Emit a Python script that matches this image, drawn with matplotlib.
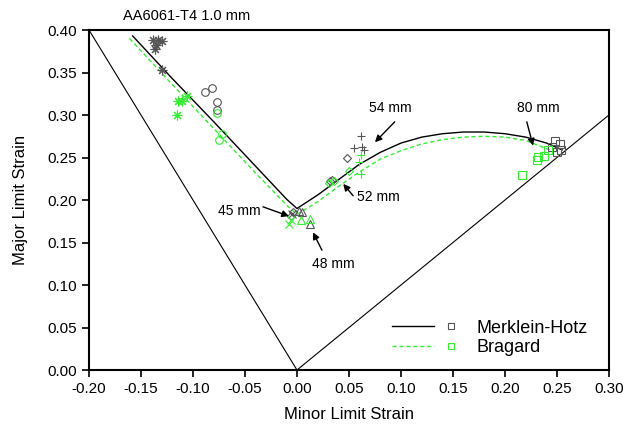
import matplotlib
matplotlib.use("Agg")
import matplotlib.pyplot as plt
from matplotlib.lines import Line2D
from matplotlib.legend_handler import HandlerBase

plt.rcParams['font.family'] = ['Liberation Sans', 'DejaVu Sans']

# ---- data ----
# strain path reference lines (uniaxial, equibiaxial)
uni_x = [-0.2, 0.0]
uni_y = [0.4, 0.0]
equi_x = [0.0, 0.3]
equi_y = [0.0, 0.3]

# Merklein-Hotz model curve
mh_x = [-0.158, -0.12, -0.08, -0.04, -0.01, 0.0, 0.02, 0.04, 0.06, 0.08, 0.10,
        0.12, 0.14, 0.16, 0.18, 0.20, 0.22, 0.24, 0.255]
mh_y = [0.393, 0.343, 0.292, 0.240, 0.201, 0.190, 0.206, 0.224, 0.242, 0.256, 0.267,
        0.274, 0.278, 0.280, 0.280, 0.278, 0.274, 0.267, 0.259]
# Bragard model curve
br_x = [-0.161, -0.12, -0.08, -0.04, -0.01, 0.0, 0.02, 0.04, 0.06, 0.08, 0.10,
        0.12, 0.14, 0.16, 0.18, 0.20, 0.22, 0.245]
br_y = [0.390, 0.336, 0.284, 0.232, 0.194, 0.183, 0.198, 0.216, 0.233, 0.248, 0.258,
        0.266, 0.271, 0.274, 0.275, 0.274, 0.270, 0.258]

# experimental points (black = Merklein-Hotz, green = Bragard)
ast_k_x = [-0.1385, -0.1337, -0.130, -0.1356, -0.1365, -0.130]
ast_k_y = [0.388, 0.388, 0.387, 0.382, 0.378, 0.353]
ast_g_x = [-0.114, -0.111, -0.115, -0.106]
ast_g_y = [0.316, 0.317, 0.300, 0.322]

cir_k_x = [-0.088, -0.082, -0.077, -0.077]
cir_k_y = [0.327, 0.332, 0.315, 0.306]
cir_g_x = [-0.077, -0.075, -0.072]
cir_g_y = [0.302, 0.271, 0.278]

dia_k_x = [-0.004, -0.006, 0.048, 0.032, 0.034]
dia_k_y = [0.186, 0.181, 0.250, 0.222, 0.223]
dia_g_x = [0.036, 0.050, 0.031]
dia_g_y = [0.222, 0.234, 0.220]

x_k_x = [-0.005]
x_k_y = [0.183]
x_g_x = [-0.006, -0.008]
x_g_y = [0.176, 0.172]

tri_k_x = [0.002, 0.005, 0.013]
tri_k_y = [0.187, 0.186, 0.172]
tri_g_x = [0.004, 0.013]
tri_g_y = [0.177, 0.178]

plus_k_x = [0.062, 0.055, 0.063, 0.064]
plus_k_y = [0.275, 0.261, 0.262, 0.259]
plus_g_x = [0.062, 0.060, 0.062]
plus_g_y = [0.253, 0.245, 0.231]

sq_k_x = [0.248, 0.253, 0.245, 0.254, 0.250]
sq_k_y = [0.269, 0.266, 0.262, 0.259, 0.257]
sq_g_x = [0.241, 0.238, 0.232, 0.231, 0.216]
sq_g_y = [0.259, 0.252, 0.251, 0.247, 0.229]

# annotations: label, tip (xy), arrow tail, text position
ann_labels = ["45 mm", "48 mm", "52 mm", "54 mm", "80 mm"]
ann_tip = [(-0.0077, 0.181), (0.0154, 0.162), (0.0445, 0.219), (0.075, 0.268), (0.227, 0.264)]
ann_tail = [(-0.0327, 0.192), (0.024, 0.141), (0.054, 0.205), (0.094, 0.292), (0.221, 0.292)]
ann_text = [(-0.055, 0.187), (0.0346, 0.125), (0.078, 0.204), (0.0894, 0.308), (0.232, 0.308)]

KC = '#555555'
GC = '#33ee33'

fig = plt.figure(figsize=(6.33, 4.30), dpi=100)
ax = fig.add_axes([0.1406, 0.1395, 0.8214, 0.7907])

ax.plot(uni_x, uni_y, color='black', lw=0.8)
ax.plot(equi_x, equi_y, color='black', lw=0.8)
ax.plot(mh_x, mh_y, color='black', lw=1.0)
ax.plot(br_x, br_y, color=GC, lw=1.0, ls=(0, (3, 2)))

ms = 5.5
def pts(x, y, marker, color, s=ms, mew=0.8):
    ax.plot(x, y, ls='none', marker=marker, ms=s, mfc='none', mec=color, mew=mew)

pts(ast_k_x, ast_k_y, (8, 2, 0), KC, 7)
pts(ast_g_x, ast_g_y, (8, 2, 0), GC, 7)
pts(cir_k_x, cir_k_y, 'o', KC)
pts(cir_g_x, cir_g_y, 'o', GC)
pts(dia_k_x, dia_k_y, 'D', KC, 4.5)
pts(dia_g_x, dia_g_y, 'D', GC, 4.5)
pts(x_k_x, x_k_y, 'x', KC)
pts(x_g_x, x_g_y, 'x', GC)
pts(tri_k_x, tri_k_y, '^', KC, 6)
pts(tri_g_x, tri_g_y, '^', GC, 6)
pts(plus_k_x, plus_k_y, '+', KC, 6)
pts(plus_g_x, plus_g_y, '+', GC, 6)
pts(sq_k_x, sq_k_y, 's', KC)
pts(sq_g_x, sq_g_y, 's', GC)

for lab, tip, tail, tpos in zip(ann_labels, ann_tip, ann_tail, ann_text):
    ax.annotate('', xy=tip, xytext=tail,
                arrowprops=dict(arrowstyle='-|>', color='black', lw=1.0,
                                mutation_scale=10, shrinkA=0, shrinkB=0))
    ax.text(tpos[0], tpos[1], lab, ha='center', va='center', fontsize=10)

ax.set_xlim(-0.2, 0.3)
ax.set_ylim(0.0, 0.4)
xt = [-0.20, -0.15, -0.10, -0.05, 0.00, 0.05, 0.10, 0.15, 0.20, 0.25, 0.30]
yt = [0.00, 0.05, 0.10, 0.15, 0.20, 0.25, 0.30, 0.35, 0.40]
ax.set_xticks(xt)
ax.set_xticklabels([f"{v:.2f}" for v in xt])
ax.set_yticks(yt)
ax.set_yticklabels([f"{v:.2f}" for v in yt])
ax.tick_params(direction='out', length=5, width=1.2, labelsize=11, top=False, right=False)
for s in ax.spines.values():
    s.set_linewidth(1.5)

ax.set_xlabel('Minor Limit Strain', fontsize=12, labelpad=8)
ax.set_ylabel('Major Limit Strain', fontsize=12, labelpad=14)
ax.text(-0.106, 1.022, 'AA6061-T4 1.0 mm', transform=ax.get_xaxis_transform(),
        ha='center', va='bottom', fontsize=10.5)

class LineMarkerHandler(HandlerBase):
    def create_artists(self, legend, orig_handle, xdescent, ydescent, width, height, fontsize, trans):
        y = height / 2 - ydescent
        x0 = -xdescent
        line = Line2D([x0, x0 + 0.66 * width], [y, y], color=orig_handle.get_color(),
                      ls=orig_handle.get_linestyle(), lw=1.0)
        if orig_handle.get_linestyle() != '-':
            line.set_dashes((3, 2))
        mk = Line2D([x0 + 0.94 * width], [y], ls='none', marker='s', ms=4.5,
                    mfc='none', mec=orig_handle.get_markeredgecolor(), mew=0.8)
        line.set_transform(trans)
        mk.set_transform(trans)
        return [line, mk]

h1 = Line2D([], [], color='black', ls='-', mec=KC)
h2 = Line2D([], [], color=GC, ls='--', mec=GC)
hnd = LineMarkerHandler()
ax.legend([h1, h2], ['Merklein-Hotz', 'Bragard'], handler_map={h1: hnd, h2: hnd},
          loc='center left', bbox_to_anchor=(0.565, 0.094), frameon=False,
          fontsize=13, handlelength=3.5, handletextpad=1.2, labelspacing=0.15,
          borderpad=0)

fig.savefig('out.png', dpi=100)
